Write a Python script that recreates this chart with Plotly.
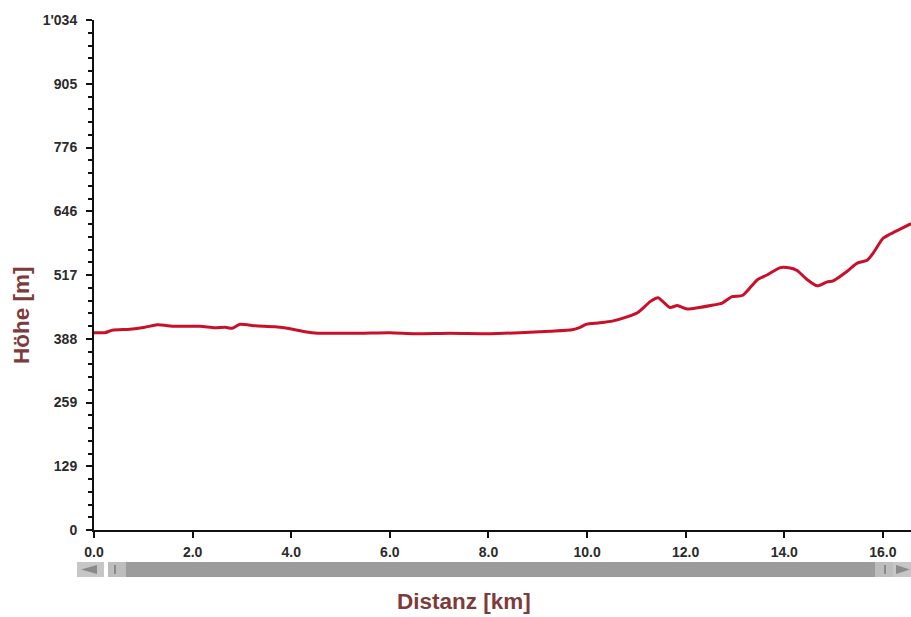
import plotly.graph_objects as go

distance_km = [0.0, 0.22, 0.37, 0.73, 1.03, 1.28, 1.64, 2.15, 2.45, 2.66, 2.80, 2.96,
               3.27, 3.67, 3.98, 4.28, 4.54, 4.99, 5.40, 6.00, 6.51, 7.22, 8.03, 8.64,
               9.25, 9.70, 9.86, 9.98, 10.26, 10.53, 10.81, 11.03, 11.28, 11.44, 11.68,
               11.83, 12.03, 12.56, 12.74, 12.94, 13.16, 13.45, 13.65, 13.92, 14.12,
               14.26, 14.46, 14.67, 14.87, 14.99, 15.27, 15.48, 15.68, 15.80, 16.00,
               16.15, 16.35, 16.57]
elevation_m = [400, 400, 405, 407, 411, 416, 413, 413, 410, 411, 409, 417,
               414, 412, 408, 402, 399, 399, 399, 400, 398, 399, 398, 400,
               403, 406, 411, 417, 420, 424, 432, 441, 463, 471, 451,
               455, 448, 456, 460, 473, 476, 507, 517, 532, 531,
               526, 508, 495, 503, 505, 524, 541, 547, 561, 591,
               600, 610, 621]

y_tick_vals = [0, 129.25, 258.5, 387.75, 517, 646.25, 775.5, 904.75, 1034]
y_tick_text = ["0", "129", "259", "388", "517", "646", "776", "905", "1'034"]
x_tick_vals = [0, 2, 4, 6, 8, 10, 12, 14, 16]

W, H = 911, 617
L, R, T, B = 94, 0, 20, 617 - 530
PW, PH = W - L - R, H - T - B


def px(x):
    return (x - L) / PW


def py(y):
    return (H - B - y) / PH


fig = go.Figure()
fig.add_trace(go.Scatter(
    x=distance_km, y=elevation_m, mode="lines",
    line=dict(color="#c8102a", width=3, shape="spline", smoothing=0.6),
    hoverinfo="skip", showlegend=False,
))

tick_font = dict(family="Liberation Sans, Arial", size=14, color="#2a2a2a", weight="bold")
title_font = dict(family="Liberation Sans, Arial", size=22.5, color="#7e3b3b", weight="bold")

shapes = []
bar_top, bar_bot = 562, 577
# scrollbar track
shapes.append(dict(type="rect", xref="paper", yref="paper",
                   x0=px(77), x1=px(911), y0=py(bar_bot), y1=py(bar_top),
                   fillcolor="#9c9c9c", line=dict(width=0)))
# left arrow button
shapes.append(dict(type="rect", xref="paper", yref="paper",
                   x0=px(77), x1=px(104), y0=py(bar_bot), y1=py(bar_top),
                   fillcolor="#c6c6c6", line=dict(width=0)))
shapes.append(dict(type="path", xref="paper", yref="paper",
                   path=f"M {px(81)},{py(569.5)} L {px(97)},{py(565)} L {px(97)},{py(574)} Z",
                   fillcolor="#8a8a8a", line=dict(width=0)))
# gap
shapes.append(dict(type="rect", xref="paper", yref="paper",
                   x0=px(104), x1=px(108), y0=py(bar_bot), y1=py(bar_top),
                   fillcolor="#ffffff", line=dict(width=0)))
# left thumb
shapes.append(dict(type="rect", xref="paper", yref="paper",
                   x0=px(108), x1=px(126), y0=py(bar_bot), y1=py(bar_top),
                   fillcolor="#bdbdbd", line=dict(width=0)))
shapes.append(dict(type="line", xref="paper", yref="paper",
                   x0=px(115), x1=px(115), y0=py(574), y1=py(565),
                   line=dict(color="#8a8a8a", width=2)))
# right thumb
shapes.append(dict(type="rect", xref="paper", yref="paper",
                   x0=px(875), x1=px(893), y0=py(bar_bot), y1=py(bar_top),
                   fillcolor="#bdbdbd", line=dict(width=0)))
shapes.append(dict(type="line", xref="paper", yref="paper",
                   x0=px(885), x1=px(885), y0=py(574), y1=py(565),
                   line=dict(color="#8a8a8a", width=2)))
# right arrow button
shapes.append(dict(type="rect", xref="paper", yref="paper",
                   x0=px(893), x1=px(911), y0=py(bar_bot), y1=py(bar_top),
                   fillcolor="#c6c6c6", line=dict(width=0)))
shapes.append(dict(type="path", xref="paper", yref="paper",
                   path=f"M {px(910)},{py(569.5)} L {px(896)},{py(565)} L {px(896)},{py(574)} Z",
                   fillcolor="#8a8a8a", line=dict(width=0)))

fig.update_layout(
    width=W, height=H,
    margin=dict(l=L, r=R, t=T, b=B, pad=0),
    paper_bgcolor="white", plot_bgcolor="white",
    shapes=shapes,
    xaxis=dict(
        range=[0, 16.57], tickvals=x_tick_vals, tickformat=".1f",
        showgrid=False, zeroline=False, showline=True, linecolor="#111111", linewidth=2,
        ticks="outside", ticklen=6, tickwidth=2, tickcolor="#111111",
        tickfont=tick_font, ticklabelstandoff=2, fixedrange=True,
    ),
    yaxis=dict(
        range=[0, 1034], tickvals=y_tick_vals, ticktext=y_tick_text,
        showgrid=False, zeroline=False, showline=True, linecolor="#111111", linewidth=2,
        ticks="outside", ticklen=6, tickwidth=2, tickcolor="#111111",
        tickfont=tick_font, ticklabelstandoff=6, fixedrange=True,
        minor=dict(dtick=25.85, tick0=0, ticks="outside", ticklen=4,
                   tickwidth=1.5, tickcolor="#111111", showgrid=False),
    ),
    annotations=[
        dict(text="Höhe [m]", xref="paper", yref="paper",
             x=px(22), y=py(315), textangle=-90, showarrow=False,
             font=title_font, xanchor="center", yanchor="middle"),
        dict(text="Distanz [km]", xref="paper", yref="paper",
             x=px(464), y=py(601), showarrow=False,
             font=title_font, xanchor="center", yanchor="middle"),
    ],
)

fig.write_html(
    "out.html",
    config={"displayModeBar": False},
    post_script="document.body.style.margin='0';document.body.style.overflow='hidden';",
)
